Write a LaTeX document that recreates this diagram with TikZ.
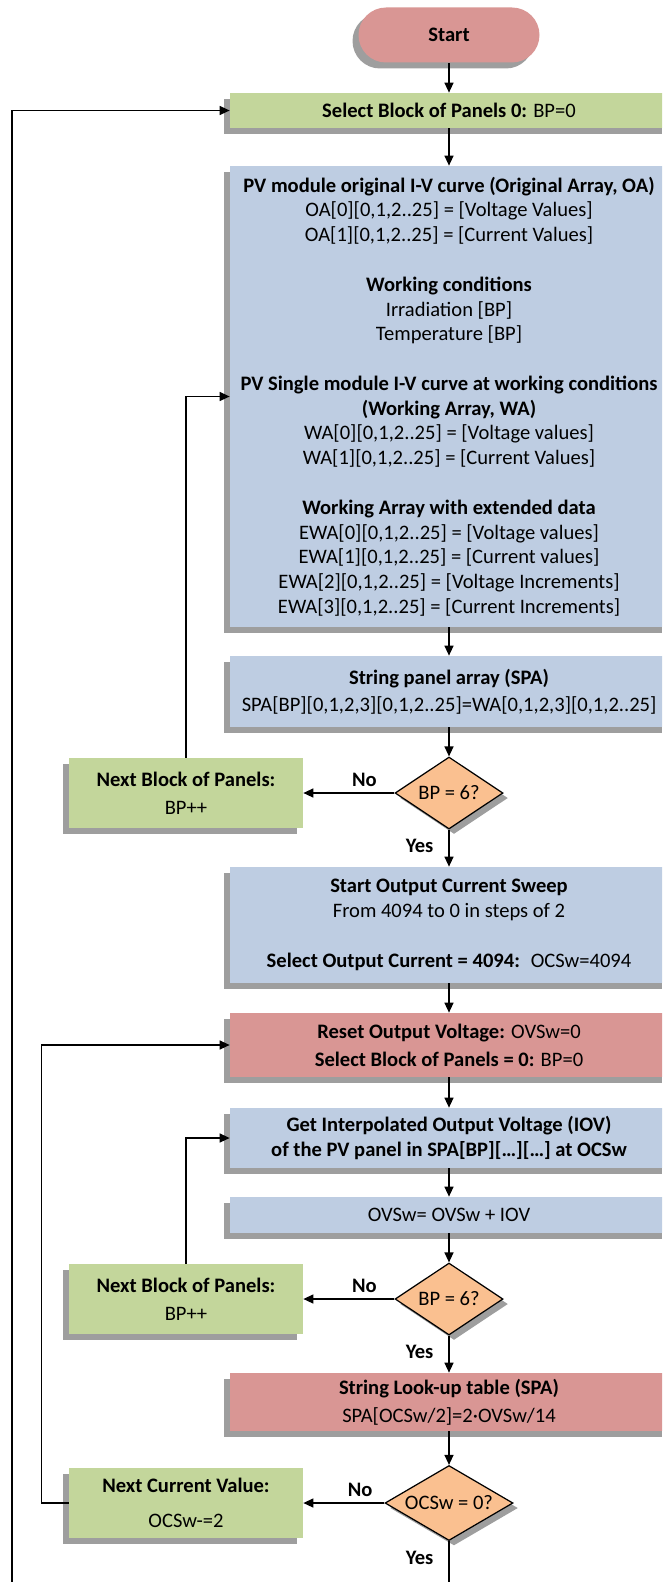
\documentclass[tikz,border=0pt]{standalone}
\usepackage{fontspec}
\setmainfont{Carlito}
\usepackage{tikz}
\usetikzlibrary{shapes.geometric,arrows.meta,shadows}
\definecolor{fcred}{RGB}{217,150,148}
\definecolor{fcgreen}{RGB}{195,214,155}
\definecolor{fcblue}{RGB}{190,205,226}
\definecolor{fcorange}{RGB}{250,192,144}
\definecolor{fcshade}{RGB}{158,158,158}

\begin{document}
\begin{tikzpicture}[
  font=\fontsize{11.7}{14.1}\selectfont,
  shade/.style={drop shadow={shadow xshift=-0.12cm, shadow yshift=-0.12cm, fill=fcshade, opacity=1}},
  box/.style={rectangle, fill=fcblue, shade, minimum width=8.76cm, align=center, inner sep=0pt},
  sidebox/.style={rectangle, fill=fcgreen, shade, minimum width=4.68cm, minimum height=1.40cm, align=center, inner sep=0pt},
  test/.style={diamond, draw=black, line width=0.7pt, fill=fcorange, aspect=1.5, inner sep=0pt,
    drop shadow={shadow xshift=0.1cm, shadow yshift=-0.1cm, fill=fcshade, opacity=1}},
  arrow/.style={-{Triangle[length=0.2cm,width=0.18cm]}, line width=0.75pt},
  lbl/.style={font=\fontsize{11.7}{14.1}\selectfont\bfseries}
]
\clip (0,0) rectangle (13.24,-31.64);

% Set-up of the string arrays
\node[rectangle, rounded corners=0.55cm, fill=fcred, shade, minimum width=3.62cm, minimum height=1.10cm] (start) at (8.98,-0.70) {\textbf{Start}};
\node[box, fill=fcgreen, minimum height=0.70cm] (select) at (8.98,-2.21) {\textbf{Select Block of Panels 0:} BP=0};
\node[box, minimum height=9.22cm] (pvarr) at (8.98,-7.93) {%
  \textbf{PV module original I-V curve (Original Array, OA)}\\
  OA[0][0,1,2..25] = [Voltage Values]\\
  OA[1][0,1,2..25] = [Current Values]\\[14.1pt]
  \textbf{Working conditions}\\
  Irradiation [BP]\\
  Temperature [BP]\\[14.1pt]
  \textbf{PV Single module I-V curve at working conditions}\\
  \textbf{(Working Array, WA)}\\
  WA[0][0,1,2..25] = [Voltage values]\\
  WA[1][0,1,2..25] = [Current Values]\\[14.1pt]
  \textbf{Working Array with extended data}\\
  EWA[0][0,1,2..25] = [Voltage values]\\
  EWA[1][0,1,2..25] = [Current values]\\
  EWA[2][0,1,2..25] = [Voltage Increments]\\
  EWA[3][0,1,2..25] = [Current Increments]};
\node[box, minimum height=1.42cm] (spa) at (8.98,-13.83) {\textbf{String panel array (SPA)}\\[1pt]
  SPA[BP][0,1,2,3][0,1,2..25]=WA[0,1,2,3][0,1,2..25]};
\node[test, minimum width=2.16cm, minimum height=1.44cm] (bp1) at (8.98,-15.86) {BP = 6?};
\node[sidebox] (nextbp1) at (3.72,-15.86) {\textbf{Next Block of Panels:}\\[2pt] BP++};

% Current sweep
\node[box, minimum height=2.32cm] (sweep) at (8.98,-18.50) {\textbf{Start Output Current Sweep}\\
  From 4094 to 0 in steps of 2\\[14.1pt]
  \textbf{Select Output Current = 4094:}~ OCSw=4094};
\node[box, fill=fcred, minimum height=1.28cm] (reset) at (8.98,-20.90) {\textbf{Reset Output Voltage:} OVSw=0\\[2pt]
  \textbf{Select Block of Panels = 0:} BP=0};
\node[box, minimum height=1.20cm] (getiov) at (8.98,-22.76) {\textbf{Get Interpolated Output Voltage (IOV)}\\
  \textbf{of the PV panel in SPA[BP][…][…] at OCSw}};
\node[box, minimum height=0.72cm] (ovsw) at (8.98,-24.30) {OVSw= OVSw + IOV};
\node[test, minimum width=2.16cm, minimum height=1.44cm] (bp2) at (8.98,-25.98) {BP = 6?};
\node[sidebox] (nextbp2) at (3.72,-25.98) {\textbf{Next Block of Panels:}\\[2pt] BP++};
\node[box, fill=fcred, minimum height=1.16cm] (lookup) at (8.98,-28.04) {\textbf{String Look-up table (SPA)}\\[2pt]
  SPA[OCSw/2]=2·OVSw/14};
\node[test, minimum width=2.56cm, minimum height=1.50cm] (ocsw) at (8.98,-30.06) {OCSw = 0?};
\node[sidebox] (nextcur) at (3.72,-30.06) {\textbf{Next Current Value:}\\[6pt] OCSw-=2};

\coordinate (done) at (8.98,-32.2);
\coordinate (outer) at (0.24,-32.2);

% Main flow
\draw[arrow] (start) -- (select);
\draw[arrow] (select) -- (pvarr);
\draw[arrow] (pvarr) -- (spa);
\draw[arrow] (spa) -- (bp1);
\draw[arrow] (bp1) -- node[lbl, above, pos=0.33] {No} (nextbp1);
\draw[arrow] (nextbp1.north) |- (pvarr.west);
\draw[arrow] (bp1) -- node[lbl, left, pos=0.45, inner sep=0.3cm] {Yes} (sweep);
\draw[arrow] (sweep) -- (reset);
\draw[arrow] (reset) -- (getiov);
\draw[arrow] (getiov) -- (ovsw);
\draw[arrow] (ovsw) -- (bp2);
\draw[arrow] (bp2) -- node[lbl, above, pos=0.33] {No} (nextbp2);
\draw[arrow] (nextbp2.north) |- (getiov.west);
\draw[arrow] (bp2) -- node[lbl, left, pos=0.45, inner sep=0.3cm] {Yes} (lookup);
\draw[arrow] (lookup) -- (ocsw);
\draw[arrow] (ocsw) -- node[lbl, above, pos=0.3] {No} (nextcur);
\draw[arrow] (nextcur.west) -- ++(-0.54,0) |- (reset.west);
\draw[line width=0.75pt] (ocsw) -- node[lbl, left, pos=0.25, inner sep=0.3cm] {Yes} (done);
\draw[arrow] (outer) |- (select.west);

\end{tikzpicture}
\end{document}
